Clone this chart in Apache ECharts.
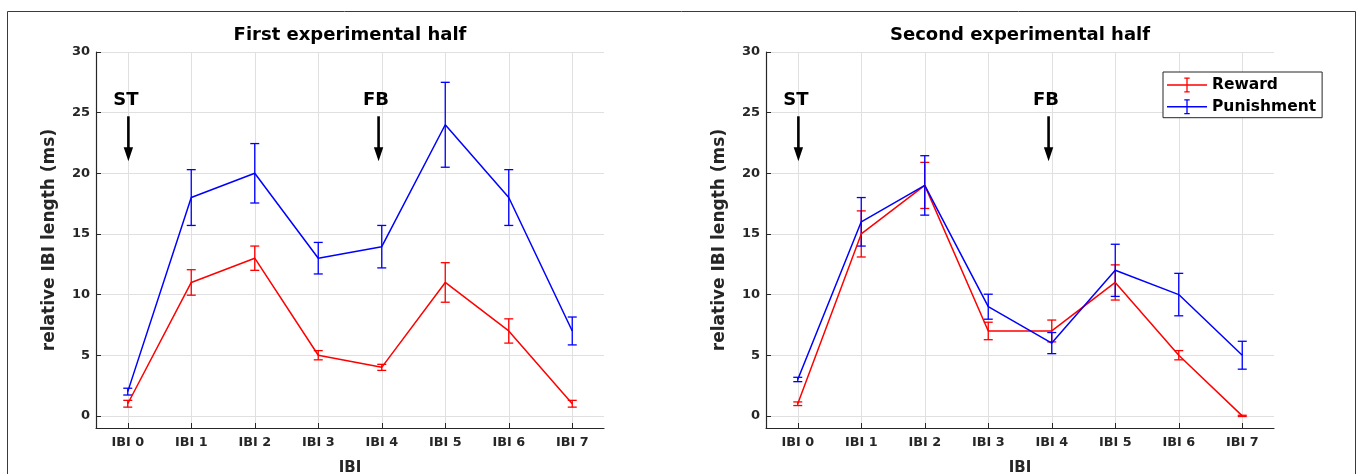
<!DOCTYPE html>
<html>
<head>
<meta charset="utf-8">
<script src="https://cdn.jsdelivr.net/npm/echarts@6/dist/echarts.min.js"></script>
<style>
  html, body { margin: 0; padding: 0; background: #fff; }
  #chart { width: 1358px; height: 474px; }
</style>
</head>
<body>
<div id="chart"></div>
<script>
// ---------- data ----------
const categories = ['IBI 0', 'IBI 1', 'IBI 2', 'IBI 3', 'IBI 4', 'IBI 5', 'IBI 6', 'IBI 7'];
const yTicks = [0, 5, 10, 15, 20, 25, 30];
const panelTitles = ['First experimental half', 'Second experimental half'];
const seriesNames = ['Reward', 'Punishment'];

const firstReward      = [1.0, 11.0, 13.0, 5.0, 4.0, 11.0, 7.0, 1.0];
const firstRewardErr   = [0.28, 1.05, 1.0, 0.38, 0.25, 1.63, 1.0, 0.28];
const firstPunish      = [2.0, 18.0, 20.0, 13.0, 13.95, 24.0, 18.0, 7.0];
const firstPunishErr   = [0.28, 2.3, 2.45, 1.3, 1.75, 3.5, 2.3, 1.15];

const secondReward     = [1.0, 15.0, 19.0, 7.0, 7.0, 11.0, 5.0, 0.0];
const secondRewardErr  = [0.15, 1.9, 1.9, 0.72, 0.9, 1.45, 0.38, 0.05];
const secondPunish     = [3.0, 16.0, 19.0, 9.0, 6.0, 12.0, 10.0, 5.0];
const secondPunishErr  = [0.18, 2.0, 2.45, 1.03, 0.87, 2.15, 1.75, 1.15];

const annotationText = ['ST', 'FB'];
const annotationX    = [0.01, 3.95];
const annotationLabelY = 26.0;
const arrowTopY = 24.7;
const arrowTipY = 21.0;

// ---------- styling ----------
const RED = '#ff0000';
const BLUE = '#0000ff';
const AXIS = '#262626';
const GRID = '#e0e0e0';
const FONT = 'DejaVu Sans';

const chart = echarts.init(document.getElementById('chart'), null, { renderer: 'canvas' });

function pairs(vals) { return vals.map((v, i) => [i, v]); }
function triples(vals, errs) { return vals.map((v, i) => [i, v, errs[i]]); }

function errorBarRender(color) {
  return function (params, api) {
    const x = api.value(0), y = api.value(1), e = api.value(2);
    const hi = api.coord([x, y + e]);
    const lo = api.coord([x, y - e]);
    const hw = 4.5;
    const style = { stroke: color, lineWidth: 1.3 };
    return {
      type: 'group',
      children: [
        { type: 'line', shape: { x1: hi[0], y1: hi[1], x2: lo[0], y2: lo[1] }, style },
        { type: 'line', shape: { x1: hi[0] - hw, y1: hi[1], x2: hi[0] + hw, y2: hi[1] }, style },
        { type: 'line', shape: { x1: lo[0] - hw, y1: lo[1], x2: lo[0] + hw, y2: lo[1] }, style }
      ]
    };
  };
}

function annotationRender(params, api) {
  const x = api.value(0);
  const txt = annotationText[params.dataIndex];
  const top = api.coord([x, arrowTopY]);
  const tip = api.coord([x, arrowTipY]);
  const lab = api.coord([x, annotationLabelY]);
  const headLen = 14, headW = 4.7;
  return {
    type: 'group',
    children: [
      { type: 'text', x: lab[0] - 2.5, y: lab[1],
        style: { text: txt, fill: '#000', font: 'bold 18px "' + FONT + '"', align: 'center', verticalAlign: 'middle' } },
      { type: 'line', shape: { x1: top[0], y1: top[1], x2: tip[0], y2: tip[1] - headLen + 2 },
        style: { stroke: '#000', lineWidth: 2.6 } },
      { type: 'polygon', shape: { points: [[tip[0], tip[1]], [tip[0] - headW, tip[1] - headLen], [tip[0] + headW, tip[1] - headLen]] },
        style: { fill: '#000' } }
    ]
  };
}

const grids = [
  { left: 96, top: 52, width: 508, height: 376, containLabel: false, outerBoundsMode: 'none' },
  { left: 766, top: 52, width: 508, height: 376, containLabel: false, outerBoundsMode: 'none' }
];

function xAxisFor(gi) {
  return {
    type: 'value', gridIndex: gi, min: -0.5, max: 7.5,
    name: 'IBI', nameLocation: 'middle', nameGap: 33,
    nameTextStyle: { fontFamily: FONT, fontWeight: 'bold', fontSize: 15, color: AXIS },
    axisLine: { show: true, onZero: false, lineStyle: { color: AXIS, width: 1.2 } },
    axisTick: { show: true, inside: true, length: 5, lineStyle: { color: AXIS }, customValues: categories.map((c, i) => i) },
    axisLabel: { show: true, margin: 8, fontFamily: FONT, fontWeight: 'bold', fontSize: 12.8, color: AXIS,
      customValues: categories.map((c, i) => i),
      formatter: (v) => categories[Math.round(v)] },
    splitLine: { show: true, lineStyle: { color: GRID, width: 1 } }
  };
}
function yAxisFor(gi) {
  return {
    type: 'value', gridIndex: gi, min: -1, max: 30,
    name: 'relative IBI length (ms)', nameLocation: 'middle', nameGap: 38, nameRotate: 90,
    nameTextStyle: { fontFamily: FONT, fontWeight: 'bold', fontSize: 17, color: AXIS },
    axisLine: { show: true, onZero: false, lineStyle: { color: AXIS, width: 1.2 } },
    axisTick: { show: true, inside: true, length: 5, lineStyle: { color: AXIS }, customValues: yTicks },
    axisLabel: { show: true, margin: 6, fontFamily: FONT, fontWeight: 'bold', fontSize: 13, color: AXIS, customValues: yTicks },
    splitLine: { show: true, lineStyle: { color: GRID, width: 1 } }
  };
}

function lineSeries(name, gi, vals, color) {
  return {
    type: 'line', name, xAxisIndex: gi, yAxisIndex: gi, data: pairs(vals),
    symbol: 'none', showSymbol: false, animation: false,
    lineStyle: { color, width: 1.5 }, itemStyle: { color }
  };
}
function errSeries(name, gi, vals, errs, color) {
  return {
    type: 'custom', name: name + ' err', xAxisIndex: gi, yAxisIndex: gi,
    data: triples(vals, errs), renderItem: errorBarRender(color), animation: false, silent: true, z: 3
  };
}
function annSeries(gi) {
  return {
    type: 'custom', name: 'annotations' + gi, xAxisIndex: gi, yAxisIndex: gi,
    data: annotationX.map((x) => [x]), renderItem: annotationRender, animation: false, silent: true, z: 5
  };
}

const legendIcon = 'path://M0 7.25 L40 7.25 L40 8.75 L0 8.75 Z M19.35 0.5 L20.65 0.5 L20.65 15.5 L19.35 15.5 Z M17.3 0.5 L22.7 0.5 L22.7 1.8 L17.3 1.8 Z M17.3 14.2 L22.7 14.2 L22.7 15.5 L17.3 15.5 Z';

const option = {
  animation: false,
  backgroundColor: '#fff',
  title: panelTitles.map((t, i) => ({
    text: t,
    left: grids[i].left + grids[i].width / 2,
    top: 26,
    textAlign: 'center',
    padding: 0,
    textStyle: { fontFamily: FONT, fontWeight: 'bold', fontSize: 18, color: '#000' }
  })),
  legend: {
    orient: 'vertical',
    left: 1163, top: 72,
    padding: [5, 6, 3, 4],
    itemGap: 5.7, itemWidth: 40, itemHeight: 16,
    backgroundColor: '#fff',
    borderColor: AXIS, borderWidth: 1, borderRadius: 0,
    textStyle: { fontFamily: FONT, fontWeight: 'bold', fontSize: 15.5, color: '#000' },
    itemStyle: { borderWidth: 0 },
    data: [
      { name: seriesNames[0], icon: legendIcon, itemStyle: { color: RED } },
      { name: seriesNames[1], icon: legendIcon, itemStyle: { color: BLUE } }
    ],
    selectedMode: false
  },
  grid: grids,
  xAxis: [xAxisFor(0), xAxisFor(1)],
  yAxis: [yAxisFor(0), yAxisFor(1)],
  graphic: [{
    type: 'rect', shape: { x: 7.5, y: 11.5, width: 1348, height: 480 },
    style: { fill: 'none', stroke: '#3a3a3a', lineWidth: 1 }, silent: true, z: -10
  }],
  series: [
    lineSeries(seriesNames[0], 0, firstReward, RED),
    errSeries(seriesNames[0], 0, firstReward, firstRewardErr, RED),
    lineSeries(seriesNames[1], 0, firstPunish, BLUE),
    errSeries(seriesNames[1], 0, firstPunish, firstPunishErr, BLUE),
    annSeries(0),
    lineSeries(seriesNames[0], 1, secondReward, RED),
    errSeries(seriesNames[0], 1, secondReward, secondRewardErr, RED),
    lineSeries(seriesNames[1], 1, secondPunish, BLUE),
    errSeries(seriesNames[1], 1, secondPunish, secondPunishErr, BLUE),
    annSeries(1)
  ]
};
chart.setOption(option);
</script>
</body>
</html>
